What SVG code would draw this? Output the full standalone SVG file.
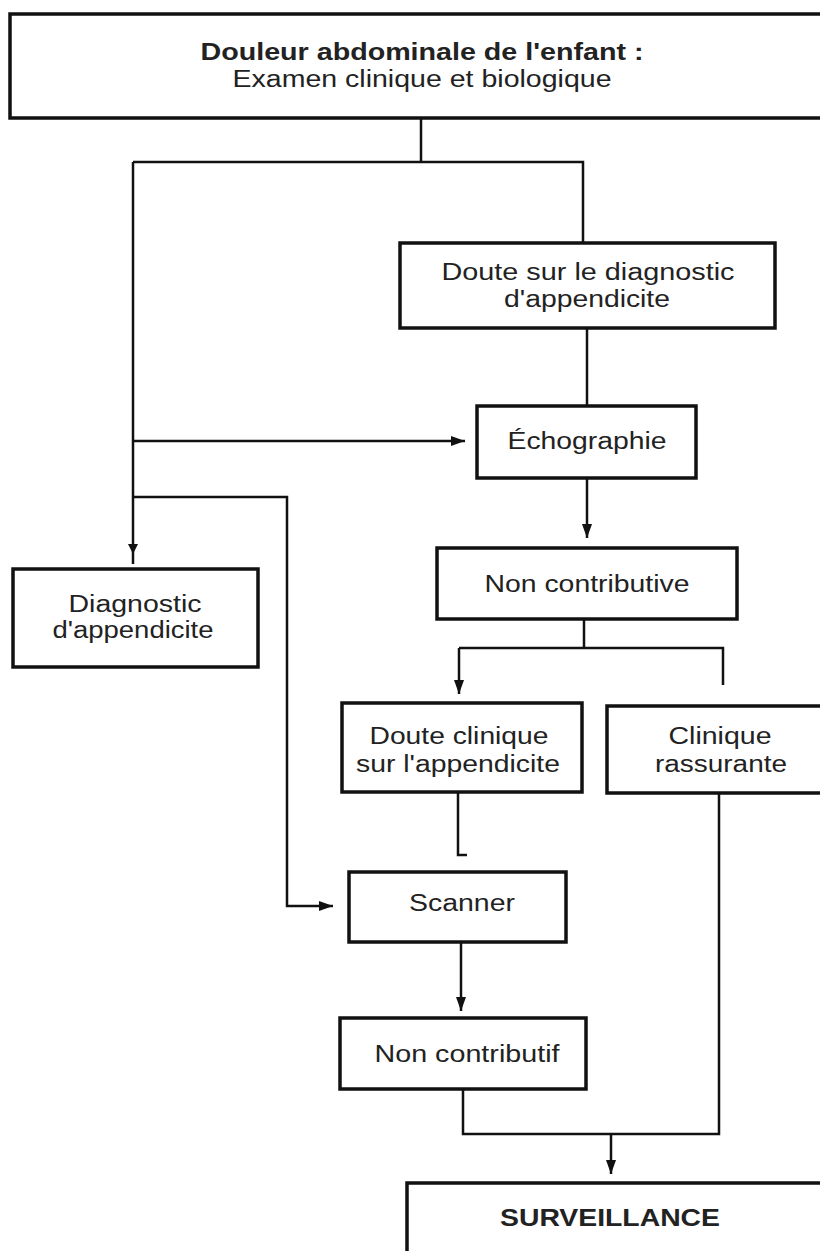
<svg xmlns="http://www.w3.org/2000/svg" width="820" height="1251" viewBox="0 0 820 1251">
<style>
.box{fill:#fff;stroke:#111;stroke-width:3.5}
.ln{fill:none;stroke:#111;stroke-width:2.5}
.t{font-family:"Liberation Sans",Arial,sans-serif;font-size:23px;fill:#222;text-anchor:middle}
.b{font-weight:bold}
</style>
<defs>
<marker id="ah" markerWidth="14" markerHeight="10" refX="14" refY="5" orient="auto" markerUnits="userSpaceOnUse">
<path d="M0,0 L14,5 L0,10 z" fill="#111"/>
</marker>
</defs>
<rect width="820" height="1251" fill="#fff"/>
<g id="connectors">
<path class="ln" d="M421,118 V162 M133,162 H583 V243"/>
<path class="ln" d="M133,162 V564"/>
<path d="M128,544 L138,544 L133,554 z" fill="#111"/>
<path class="ln" d="M133,441 H465" marker-end="url(#ah)"/>
<path class="ln" d="M133,497 H287 V906 H333" marker-end="url(#ah)"/>
<path class="ln" d="M587,328 V406"/>
<path class="ln" d="M587,478 V538" marker-end="url(#ah)"/>
<path class="ln" d="M584,619 V648 M459,648 H723 V685"/>
<path class="ln" d="M459,648 V694" marker-end="url(#ah)"/>
<path class="ln" d="M458,792 V855 H467"/>
<path class="ln" d="M461,942 V1011" marker-end="url(#ah)"/>
<path class="ln" d="M463,1089 V1134 H719 V793"/>
<path class="ln" d="M611,1134 V1174" marker-end="url(#ah)"/>
</g>
<g id="n-top">
<rect class="box" x="10" y="14" width="830" height="104"/>
<text class="t b" x="422" y="60" font-size="22" textLength="443" lengthAdjust="spacingAndGlyphs">Douleur abdominale de l'enfant :</text>
<text class="t" x="422" y="87" font-size="22" textLength="379" lengthAdjust="spacingAndGlyphs">Examen clinique et biologique</text>
</g>
<g id="n-doute">
<rect class="box" x="400" y="243" width="375" height="85"/>
<text class="t" x="588" y="280" font-size="24" textLength="293" lengthAdjust="spacingAndGlyphs">Doute sur le diagnostic</text>
<text class="t" x="587" y="307" font-size="24" textLength="166" lengthAdjust="spacingAndGlyphs">d'appendicite</text>
</g>
<g id="n-echo">
<rect class="box" x="477" y="406" width="219" height="72"/>
<text class="t" x="587" y="449" font-size="24" textLength="159" lengthAdjust="spacingAndGlyphs">Échographie</text>
</g>
<g id="n-diag">
<rect class="box" x="13" y="569" width="245" height="98" stroke-width="4.5"/>
<text class="t" x="135" y="612" textLength="133" lengthAdjust="spacingAndGlyphs">Diagnostic</text>
<text class="t" x="133" y="638" textLength="161" lengthAdjust="spacingAndGlyphs">d'appendicite</text>
</g>
<g id="n-noncontributive">
<rect class="box" x="437" y="548" width="300" height="71"/>
<text class="t" x="587" y="592" textLength="205" lengthAdjust="spacingAndGlyphs">Non contributive</text>
</g>
<g id="n-doutecl">
<rect class="box" x="342" y="703" width="240" height="89"/>
<text class="t" x="459" y="744" textLength="179" lengthAdjust="spacingAndGlyphs">Doute clinique</text>
<text class="t" x="458" y="772" textLength="204" lengthAdjust="spacingAndGlyphs">sur l'appendicite</text>
</g>
<g id="n-clinique">
<rect class="box" x="607" y="706" width="230" height="87"/>
<text class="t" x="720" y="744" textLength="103" lengthAdjust="spacingAndGlyphs">Clinique</text>
<text class="t" x="721" y="772" textLength="132" lengthAdjust="spacingAndGlyphs">rassurante</text>
</g>
<g id="n-scanner">
<rect class="box" x="349" y="872" width="217" height="70"/>
<text class="t" x="462" y="911" textLength="106" lengthAdjust="spacingAndGlyphs">Scanner</text>
</g>
<g id="n-noncontributif">
<rect class="box" x="340" y="1018" width="246" height="71"/>
<text class="t" x="467" y="1062" textLength="185" lengthAdjust="spacingAndGlyphs">Non contributif</text>
</g>
<g id="n-surveillance">
<rect class="box" x="407" y="1183" width="430" height="90"/>
<text class="t b" x="610" y="1226" font-size="21" textLength="220" lengthAdjust="spacingAndGlyphs">SURVEILLANCE</text>
</g>
</svg>
